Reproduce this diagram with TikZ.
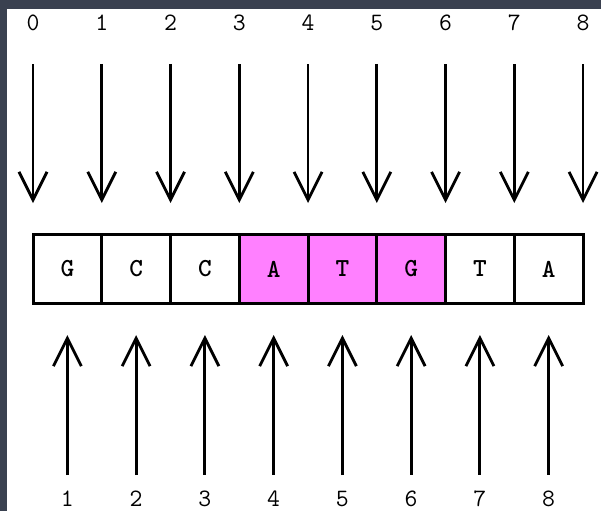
\documentclass[tikz,border=0pt]{standalone}
\usepackage{fontspec}
\usepackage{tikz}
\usetikzlibrary{arrows.meta}

\definecolor{frame}{RGB}{58,65,80}
\definecolor{hilite}{RGB}{255,128,255}

\begin{document}
\begin{tikzpicture}[
    x=1pt, y=-1pt,
    cell/.style={
        draw,
        line width=3pt,
        minimum width=68.75pt,
        minimum height=69pt,
        inner sep=0pt,
        font=\ttfamily\bfseries\fontsize{26}{26}\selectfont
    },
    idx/.style={
        inner sep=0pt,
        font=\ttfamily\fontsize{25}{25}\selectfont
    },
    ptr/.style={
        line width=2.8pt,
        -{Straight Barb[length=28pt,width=28pt,line width=2.8pt]}
    }
]

    %------------------------------------------------
    % Frame
    %------------------------------------------------

    \useasboundingbox (0,0) rectangle (601,511);

    \fill[frame] (0,0) rectangle (601,511);
    \fill[white] (7,9) rectangle (601,511);

    %------------------------------------------------
    % Sequence cells
    %------------------------------------------------

    \foreach \i/\b/\f in {1/G/white,2/C/white,3/C/white,4/A/hilite,
                          5/T/hilite,6/G/hilite,7/T/white,8/A/white}
        \node[cell, fill=\f]
            (c\i) at ({68.75*\i-1.375},269) {\b};

    %------------------------------------------------
    % Gap positions (top)
    %------------------------------------------------

    \foreach \k in {0,...,8}
    {
        \node[idx]
            (top\k) at ({33+68.75*\k},23) {\k};

        \draw[ptr, shorten <=33pt, shorten >=30pt]
            (top\k.south) -- (top\k.south |- c1.north);
    }

    %------------------------------------------------
    % Base positions (bottom)
    %------------------------------------------------

    \foreach \k in {1,...,8}
    {
        \node[idx]
            (bot\k) at (c\k |- 0,499) {\k};

        \draw[ptr, shorten <=16pt, shorten >=30pt]
            (bot\k.north) -- (bot\k.north |- c\k.south);
    }

\end{tikzpicture}
\end{document}
